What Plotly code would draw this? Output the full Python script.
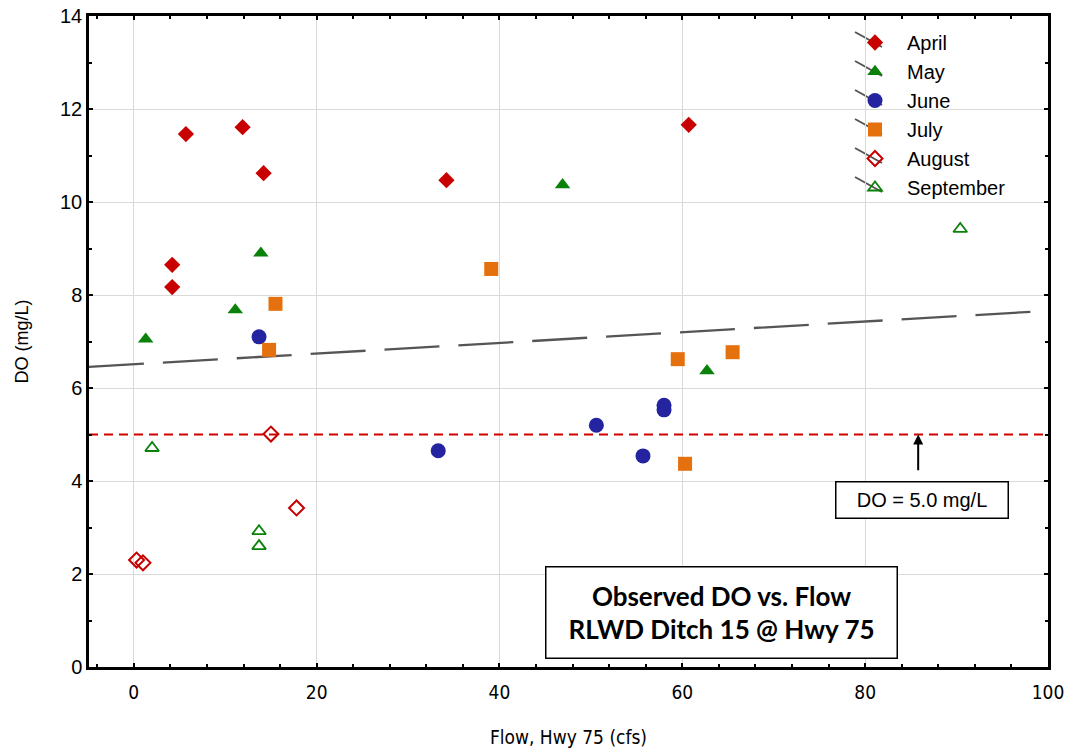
import plotly.graph_objects as go

# ---------------- data ----------------
april_x = [5.7, 11.9, 14.2, 4.2, 4.2, 34.2, 60.7]
april_y = [11.46, 11.61, 10.62, 8.65, 8.17, 10.47, 11.66]

may_x = [1.3, 11.1, 13.9, 46.9, 62.7]
may_y = [7.05, 7.68, 8.90, 10.37, 6.37]

june_x = [13.7, 33.3, 50.6, 55.7, 58.0, 58.0]
june_y = [7.10, 4.65, 5.20, 4.54, 5.63, 5.53]

july_x = [15.5, 14.8, 39.1, 59.5, 60.3, 65.5]
july_y = [7.81, 6.82, 8.56, 6.62, 4.37, 6.77]

aug_x = [0.3, 1.0, 15.0, 17.8]
aug_y = [2.30, 2.24, 5.01, 3.42]

sep_x = [2.0, 13.7, 13.7, 90.4]
sep_y = [4.71, 2.92, 2.60, 9.42]

trend_intercept = 6.51
trend_slope = 0.0115
standard_do = 5.0

x_range = [-4.9, 100]
y_range = [0, 14]
x_ticks = [0, 20, 40, 60, 80, 100]
y_ticks = [0, 2, 4, 6, 8, 10, 12, 14]

# ---------------- figure ----------------
W, H = 1070, 753
ML, MR, MT, MB = 89, 22, 16, 86
PW = W - ML - MR
PH = H - MT - MB

def px_to_paper(px, py):
    return (px - ML) / PW, (H - MB - py) / PH

fig = go.Figure()

series = [
    ("April", april_x, april_y, "diamond", "#C80000", 12.5, 0),
    ("May", may_x, may_y, "triangle-up", "#0A820A", 13.5, 0),
    ("June", june_x, june_y, "circle", "#2424A0", 15, 0),
    ("July", july_x, july_y, "square", "#E5700E", 14, 0),
    ("August", aug_x, aug_y, "diamond-open", "#C80000", 11.5, 2),
    ("September", sep_x, sep_y, "triangle-up-open", "#0A820A", 12, 1.8),
]

# trend line (regression)
tx = [x_range[0], x_range[1]]
ty = [trend_intercept + trend_slope * v for v in tx]
fig.add_trace(go.Scatter(x=tx, y=ty, mode="lines", showlegend=False,
                         line=dict(color="#555555", width=2.3, dash="55px,19px"),
                         hoverinfo="skip"))
# DO standard line
fig.add_trace(go.Scatter(x=tx, y=[standard_do, standard_do], mode="lines", showlegend=False,
                         line=dict(color="#D00000", width=2, dash="9px,6px"),
                         hoverinfo="skip"))

for name, xs, ys, sym, col, size, lw in series:
    fig.add_trace(go.Scatter(
        x=xs, y=ys, mode="markers", name=name,
        marker=dict(symbol=sym, color=col, size=size,
                    line=dict(color=col, width=lw)),
    ))

shapes = []
# slanted legend line artifacts
for i in range(6):
    yc = 43 + 29 * i
    x0, y0 = px_to_paper(855, yc - 11)
    x1, y1 = px_to_paper(882, yc + 4)
    shapes.append(dict(type="line", xref="paper", yref="paper", x0=x0, y0=y0, x1=x1, y1=y1,
                       line=dict(color="#555555", width=2), layer="below"))

tbx, tby = px_to_paper(721, 612)
dbx, dby = px_to_paper(921.5, 499.5)

annotations = [
    dict(xref="paper", yref="paper", x=tbx, y=tby, xanchor="center", yanchor="middle",
         text="<b>Observed DO vs. Flow</b><br><b>RLWD Ditch 15 @ Hwy 75</b>",
         showarrow=False, font=dict(family="Lato, Open Sans, Liberation Sans", size=26, color="black"),
         bgcolor="white", bordercolor="black", borderwidth=1.5, width=348, height=88, align="center"),
    dict(xref="paper", yref="paper", x=dbx, y=dby, xanchor="center", yanchor="middle",
         text="DO = 5.0 mg/L", showarrow=False,
         font=dict(family="Liberation Sans, Arial", size=20, color="black"),
         bgcolor="white", bordercolor="black", borderwidth=1.5, width=169, height=33),
    dict(x=85.8, y=standard_do, xref="x", yref="y", ax=85.8, ay=4.2, axref="x", ayref="y",
         text="", showarrow=True, arrowhead=2, arrowsize=1, arrowwidth=2, arrowcolor="black"),
]

lx, ly = px_to_paper(843, 23)

fig.update_layout(
    width=W, height=H,
    margin=dict(l=ML, r=MR, t=MT, b=MB, pad=0),
    paper_bgcolor="white", plot_bgcolor="white",
    font=dict(family="Liberation Sans, Arial", size=18, color="black"),
    showlegend=True,
    legend=dict(x=lx, y=ly, xanchor="left", yanchor="top", bgcolor="rgba(0,0,0,0)",
                font=dict(family="Liberation Sans, Arial", size=20, color="black"),
                itemsizing="trace", itemwidth=54, borderwidth=0),
    shapes=shapes,
    annotations=annotations,
    xaxis=dict(range=x_range, tickvals=x_ticks, ticktext=[str(v) for v in x_ticks],
               automargin=False,
               showgrid=True, gridcolor="#DADADA", gridwidth=1, zeroline=False,
               showline=True, linecolor="black", linewidth=2.5, mirror="ticks",
               ticks="inside", ticklen=4, tickwidth=2, tickcolor="black",
               ticklabelstandoff=6,
               minor=dict(dtick=4, tick0=0, ticks="inside", ticklen=3, tickwidth=1.5,
                          tickcolor="black", showgrid=False),
               tickfont=dict(family="DejaVu Sans Condensed, Liberation Sans Narrow, Liberation Sans", size=19),
               title=dict(text="Flow, Hwy 75 (cfs)", standoff=30,
                          font=dict(family="DejaVu Sans Condensed, Liberation Sans Narrow, Liberation Sans", size=19))),
    yaxis=dict(range=y_range, tickvals=y_ticks, ticktext=[str(v) for v in y_ticks],
               automargin=False,
               showgrid=True, gridcolor="#DADADA", gridwidth=1, zeroline=False,
               showline=True, linecolor="black", linewidth=2.5, mirror="ticks",
               ticks="inside", ticklen=4, tickwidth=2, tickcolor="black",
               minor=dict(dtick=1, tick0=0, ticks="inside", ticklen=3, tickwidth=1.5,
                          tickcolor="black", showgrid=False),
               tickfont=dict(family="Liberation Sans, Arial", size=20),
               title=dict(text="DO (mg/L)", standoff=27,
                          font=dict(family="Liberation Sans, Arial", size=18))),
)

fig.write_html("out.html")
